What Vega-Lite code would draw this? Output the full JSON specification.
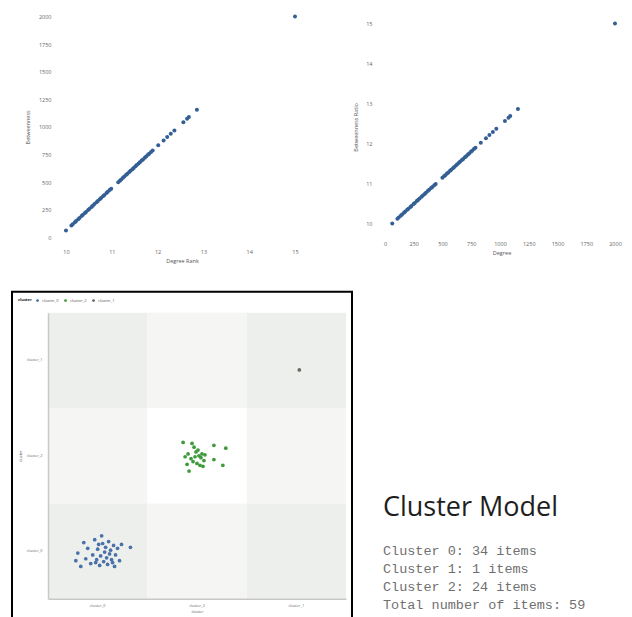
{
  "$schema": "https://vega.github.io/schema/vega-lite/v6.json",
  "padding": {"left": 11, "top": 9.4, "right": 0, "bottom": 0},
  "background": "white",
  "config": {
    "view": {"stroke": null},
    "font": "Open Sans",
    "axis": {"labelFont": "Open Sans", "labelFontSize": 5.5, "labelColor": "#666666", "titleFont": "Open Sans", "titleFontSize": 5.5, "titleFontWeight": "normal", "titleColor": "#555555", "grid": false, "ticks": false, "domain": false},
    "legend": {"labelFont": "Open Sans", "labelFontSize": 4, "titleFont": "Open Sans", "titleFontSize": 4}
  },
  "resolve": {"scale": {"color": "independent"}, "legend": {"color": "independent"}},
  "datasets": {
    "items": [
      {"degree": 63, "rank": 10.0, "cluster": "cluster_0", "jx": -0.20, "jy": 0.02},
      {"degree": 108, "rank": 10.118, "cluster": "cluster_0", "jx": -0.22, "jy": 0.10},
      {"degree": 119, "rank": 10.146, "cluster": "cluster_0", "jx": -0.17, "jy": 0.16},
      {"degree": 137, "rank": 10.194, "cluster": "cluster_0", "jx": -0.12, "jy": 0.08},
      {"degree": 148, "rank": 10.222, "cluster": "cluster_0", "jx": -0.10, "jy": -0.03},
      {"degree": 165, "rank": 10.267, "cluster": "cluster_0", "jx": -0.07, "jy": 0.13},
      {"degree": 176, "rank": 10.295, "cluster": "cluster_0", "jx": -0.05, "jy": 0.04},
      {"degree": 193, "rank": 10.340, "cluster": "cluster_0", "jx": -0.03, "jy": -0.12},
      {"degree": 204, "rank": 10.369, "cluster": "cluster_0", "jx": -0.01, "jy": 0.09},
      {"degree": 221, "rank": 10.413, "cluster": "cluster_0", "jx": 0.00, "jy": -0.02},
      {"degree": 230, "rank": 10.437, "cluster": "cluster_0", "jx": 0.02, "jy": 0.15},
      {"degree": 248, "rank": 10.484, "cluster": "cluster_0", "jx": 0.03, "jy": 0.05},
      {"degree": 259, "rank": 10.513, "cluster": "cluster_0", "jx": 0.04, "jy": -0.16},
      {"degree": 276, "rank": 10.557, "cluster": "cluster_0", "jx": 0.05, "jy": -0.08},
      {"degree": 287, "rank": 10.586, "cluster": "cluster_0", "jx": 0.06, "jy": 0.11},
      {"degree": 301, "rank": 10.622, "cluster": "cluster_0", "jx": 0.07, "jy": 0.01},
      {"degree": 318, "rank": 10.667, "cluster": "cluster_0", "jx": 0.08, "jy": -0.04},
      {"degree": 329, "rank": 10.696, "cluster": "cluster_0", "jx": 0.09, "jy": 0.07},
      {"degree": 345, "rank": 10.737, "cluster": "cluster_0", "jx": 0.10, "jy": 0.14},
      {"degree": 356, "rank": 10.766, "cluster": "cluster_0", "jx": 0.11, "jy": -0.10},
      {"degree": 372, "rank": 10.808, "cluster": "cluster_0", "jx": 0.12, "jy": 0.03},
      {"degree": 384, "rank": 10.839, "cluster": "cluster_0", "jx": 0.13, "jy": -0.01},
      {"degree": 401, "rank": 10.884, "cluster": "cluster_0", "jx": 0.14, "jy": 0.09},
      {"degree": 412, "rank": 10.913, "cluster": "cluster_0", "jx": 0.15, "jy": 0.12},
      {"degree": 428, "rank": 10.954, "cluster": "cluster_0", "jx": 0.16, "jy": -0.06},
      {"degree": 441, "rank": 10.988, "cluster": "cluster_0", "jx": 0.18, "jy": 0.04},
      {"degree": 499, "rank": 11.140, "cluster": "cluster_0", "jx": 0.20, "jy": -0.03},
      {"degree": 513, "rank": 11.177, "cluster": "cluster_0", "jx": 0.22, "jy": 0.10},
      {"degree": 524, "rank": 11.206, "cluster": "cluster_0", "jx": 0.24, "jy": -0.07},
      {"degree": 539, "rank": 11.245, "cluster": "cluster_0", "jx": 0.33, "jy": -0.04},
      {"degree": 550, "rank": 11.274, "cluster": "cluster_0", "jx": -0.14, "jy": -0.09},
      {"degree": 566, "rank": 11.315, "cluster": "cluster_0", "jx": -0.02, "jy": 0.12},
      {"degree": 576, "rank": 11.341, "cluster": "cluster_0", "jx": 0.01, "jy": -0.07},
      {"degree": 591, "rank": 11.381, "cluster": "cluster_0", "jx": 0.17, "jy": 0.16},
      {"degree": 602, "rank": 11.410, "cluster": "cluster_2", "jx": -0.14, "jy": -0.14},
      {"degree": 617, "rank": 11.449, "cluster": "cluster_2", "jx": -0.05, "jy": -0.13},
      {"degree": 628, "rank": 11.478, "cluster": "cluster_2", "jx": -0.03, "jy": -0.09},
      {"degree": 643, "rank": 11.517, "cluster": "cluster_2", "jx": -0.09, "jy": -0.02},
      {"degree": 654, "rank": 11.545, "cluster": "cluster_2", "jx": -0.12, "jy": 0.01},
      {"degree": 669, "rank": 11.585, "cluster": "cluster_2", "jx": -0.06, "jy": 0.03},
      {"degree": 680, "rank": 11.613, "cluster": "cluster_2", "jx": -0.01, "jy": -0.04},
      {"degree": 695, "rank": 11.653, "cluster": "cluster_2", "jx": 0.01, "jy": -0.06},
      {"degree": 706, "rank": 11.681, "cluster": "cluster_2", "jx": 0.02, "jy": 0.00},
      {"degree": 721, "rank": 11.721, "cluster": "cluster_2", "jx": 0.04, "jy": 0.02},
      {"degree": 732, "rank": 11.749, "cluster": "cluster_2", "jx": 0.05, "jy": -0.02},
      {"degree": 747, "rank": 11.789, "cluster": "cluster_2", "jx": 0.07, "jy": 0.05},
      {"degree": 758, "rank": 11.817, "cluster": "cluster_2", "jx": -0.04, "jy": 0.06},
      {"degree": 773, "rank": 11.857, "cluster": "cluster_2", "jx": 0.00, "jy": 0.08},
      {"degree": 787, "rank": 11.893, "cluster": "cluster_2", "jx": 0.03, "jy": 0.10},
      {"degree": 833, "rank": 12.014, "cluster": "cluster_2", "jx": 0.06, "jy": 0.11},
      {"degree": 878, "rank": 12.131, "cluster": "cluster_2", "jx": -0.08, "jy": 0.16},
      {"degree": 908, "rank": 12.210, "cluster": "cluster_2", "jx": -0.10, "jy": 0.09},
      {"degree": 938, "rank": 12.288, "cluster": "cluster_2", "jx": 0.08, "jy": -0.01},
      {"degree": 968, "rank": 12.367, "cluster": "cluster_2", "jx": -0.02, "jy": 0.01},
      {"degree": 1043, "rank": 12.563, "cluster": "cluster_2", "jx": 0.17, "jy": -0.11},
      {"degree": 1074, "rank": 12.644, "cluster": "cluster_2", "jx": 0.29, "jy": -0.08},
      {"degree": 1089, "rank": 12.683, "cluster": "cluster_2", "jx": 0.17, "jy": 0.04},
      {"degree": 1156, "rank": 12.858, "cluster": "cluster_2", "jx": 0.26, "jy": 0.10},
      {"degree": 2000, "rank": 15.0, "cluster": "cluster_1", "jx": 0.03, "jy": 0.10}
    ],
    "cells": [
      {"cx": "cluster_0", "cy": "cluster_0"}, {"cx": "cluster_0", "cy": "cluster_2"}, {"cx": "cluster_0", "cy": "cluster_1"},
      {"cx": "cluster_2", "cy": "cluster_0"}, {"cx": "cluster_2", "cy": "cluster_2"}, {"cx": "cluster_2", "cy": "cluster_1"},
      {"cx": "cluster_1", "cy": "cluster_0"}, {"cx": "cluster_1", "cy": "cluster_2"}, {"cx": "cluster_1", "cy": "cluster_1"}
    ],
    "notes": [
      {"line": 0, "kind": "heading", "text": "Cluster Model"},
      {"line": 1, "kind": "body", "text": "Cluster 0: 34 items"},
      {"line": 2, "kind": "body", "text": "Cluster 1: 1 items"},
      {"line": 3, "kind": "body", "text": "Cluster 2: 24 items"},
      {"line": 4, "kind": "body", "text": "Total number of items: 59"}
    ]
  },
  "columns": 2,
  "align": "each",
  "bounds": "flush",
  "center": true,
  "spacing": {"row": 47.4, "column": 26},
  "concat": [
    {
      "width": 252,
      "height": 234.2,
      "data": {"name": "items"},
      "mark": {"type": "circle", "size": 16, "opacity": 1, "color": "#345f94"},
      "encoding": {
        "x": {"field": "rank", "type": "quantitative", "scale": {"domain": [9.782, 15.284], "nice": false, "zero": false},
              "axis": {"values": [10, 11, 12, 13, 14, 15], "format": "d", "title": "Degree Rank", "labelPadding": 6, "titlePadding": 3}},
        "y": {"field": "degree", "type": "quantitative", "scale": {"domain": [-60, 2060], "nice": false, "zero": false},
              "axis": {"values": [0, 250, 500, 750, 1000, 1250, 1500, 1750, 2000], "format": "d", "title": "Betweenness", "labelPadding": 5, "titlePadding": 8}}
      }
    },
    {
      "width": 247,
      "height": 234.2,
      "data": {"name": "items"},
      "mark": {"type": "circle", "size": 16, "opacity": 1, "color": "#345f94"},
      "encoding": {
        "x": {"field": "degree", "type": "quantitative", "scale": {"domain": [-60.9, 2087], "nice": false, "zero": false},
              "axis": {"values": [0, 250, 500, 750, 1000, 1250, 1500, 1750, 2000], "format": "d", "title": "Degree", "offset": -8, "labelPadding": 6, "titlePadding": 3}},
        "y": {"field": "rank", "type": "quantitative", "scale": {"domain": [9.485, 15.34], "nice": false, "zero": false},
              "axis": {"values": [10, 11, 12, 13, 14, 15], "format": "d", "title": "Betweenness Ratio", "labelPadding": 6, "titlePadding": 7}}
      }
    },
    {
      "width": 340,
      "height": 340,
      "view": {"stroke": "#000000", "strokeWidth": 2, "fill": "white"},
      "layer": [
        {
          "data": {"name": "cells"},
          "mark": {"type": "rect", "color": "#edefec", "width": 99.4, "height": 95.4},
          "encoding": {
            "x": {"field": "cx", "type": "nominal", "scale": {"domain": ["cluster_0", "cluster_2", "cluster_1"], "range": [36, 334], "paddingInner": 0, "paddingOuter": 0},
                  "axis": {"title": "cluster", "offset": -33, "domain": true, "domainColor": "#c8c8c8", "domainWidth": 1.5, "labelFontSize": 3.8, "titleFontSize": 3.8, "labelPadding": 5, "titlePadding": 2, "labelAngle": 0}},
            "y": {"field": "cy", "type": "nominal", "scale": {"domain": ["cluster_1", "cluster_2", "cluster_0"], "range": [21, 307], "paddingInner": 0, "paddingOuter": 0},
                  "axis": {"title": "cluster", "offset": -36, "domain": true, "domainColor": "#c8c8c8", "domainWidth": 1.5, "labelFontSize": 3.8, "titleFontSize": 3.8, "labelPadding": 6, "titlePadding": 4}}
          }
        },
        {
          "data": {"name": "cells"},
          "transform": [{"filter": "datum.cx === 'cluster_2' || datum.cy === 'cluster_2'"}],
          "mark": {"type": "rect", "color": "#ffffff", "opacity": 0.45, "width": 99.4, "height": 95.4},
          "encoding": {
            "x": {"field": "cx", "type": "nominal"},
            "y": {"field": "cy", "type": "nominal"}
          }
        },
        {
          "data": {"name": "cells"},
          "transform": [{"filter": "datum.cx === 'cluster_2' && datum.cy === 'cluster_2'"}],
          "mark": {"type": "rect", "color": "#ffffff", "opacity": 1, "width": 99.4, "height": 95.4},
          "encoding": {
            "x": {"field": "cx", "type": "nominal"},
            "y": {"field": "cy", "type": "nominal"}
          }
        },
        {
          "data": {"name": "items"},
          "mark": {"type": "circle", "size": 14, "opacity": 1},
          "encoding": {
            "x": {"field": "cluster", "type": "nominal"},
            "xOffset": {"field": "jx", "type": "quantitative", "scale": {"domain": [-0.5, 0.5]}},
            "y": {"field": "cluster", "type": "nominal"},
            "yOffset": {"field": "jy", "type": "quantitative", "scale": {"domain": [-0.5, 0.5]}},
            "color": {"field": "cluster", "type": "nominal",
                      "scale": {"domain": ["cluster_0", "cluster_2", "cluster_1"], "range": ["#4a72a8", "#3f9a3c", "#6a6a60"]},
                      "legend": {"orient": "top-left", "direction": "horizontal", "title": "cluster", "titleOrient": "left", "titleFontWeight": "bold", "titleColor": "#222222", "labelColor": "#555555", "offset": 6, "padding": 0, "symbolType": "circle", "symbolSize": 8, "columnPadding": 4, "labelOffset": 2, "titlePadding": 3}}
          }
        }
      ]
    },
    {
      "width": 247,
      "height": 340,
      "data": {"name": "notes"},
      "layer": [
        {
          "transform": [{"filter": "datum.kind === 'heading'"}],
          "mark": {"type": "text", "align": "left", "baseline": "middle", "font": "Open Sans", "fontSize": 27, "color": "#1e1e1e", "dx": 5, "dy": -25.4},
          "encoding": {
            "x": {"datum": 0, "type": "quantitative", "scale": {"domain": [0, 1]}, "axis": null},
            "y": {"field": "line", "type": "quantitative", "scale": {"domain": [-13.615, 5.519], "reverse": true, "nice": false, "zero": false}, "axis": null},
            "text": {"field": "text"}
          }
        },
        {
          "transform": [{"filter": "datum.kind === 'body'"}],
          "mark": {"type": "text", "align": "left", "baseline": "middle", "font": "Liberation Mono", "fontSize": 13.5, "color": "#707070", "dx": 5},
          "encoding": {
            "x": {"datum": 0, "type": "quantitative", "scale": {"domain": [0, 1]}, "axis": null},
            "y": {"field": "line", "type": "quantitative", "scale": {"domain": [-13.615, 5.519], "reverse": true, "nice": false, "zero": false}, "axis": null},
            "text": {"field": "text"}
          }
        }
      ]
    }
  ]
}
